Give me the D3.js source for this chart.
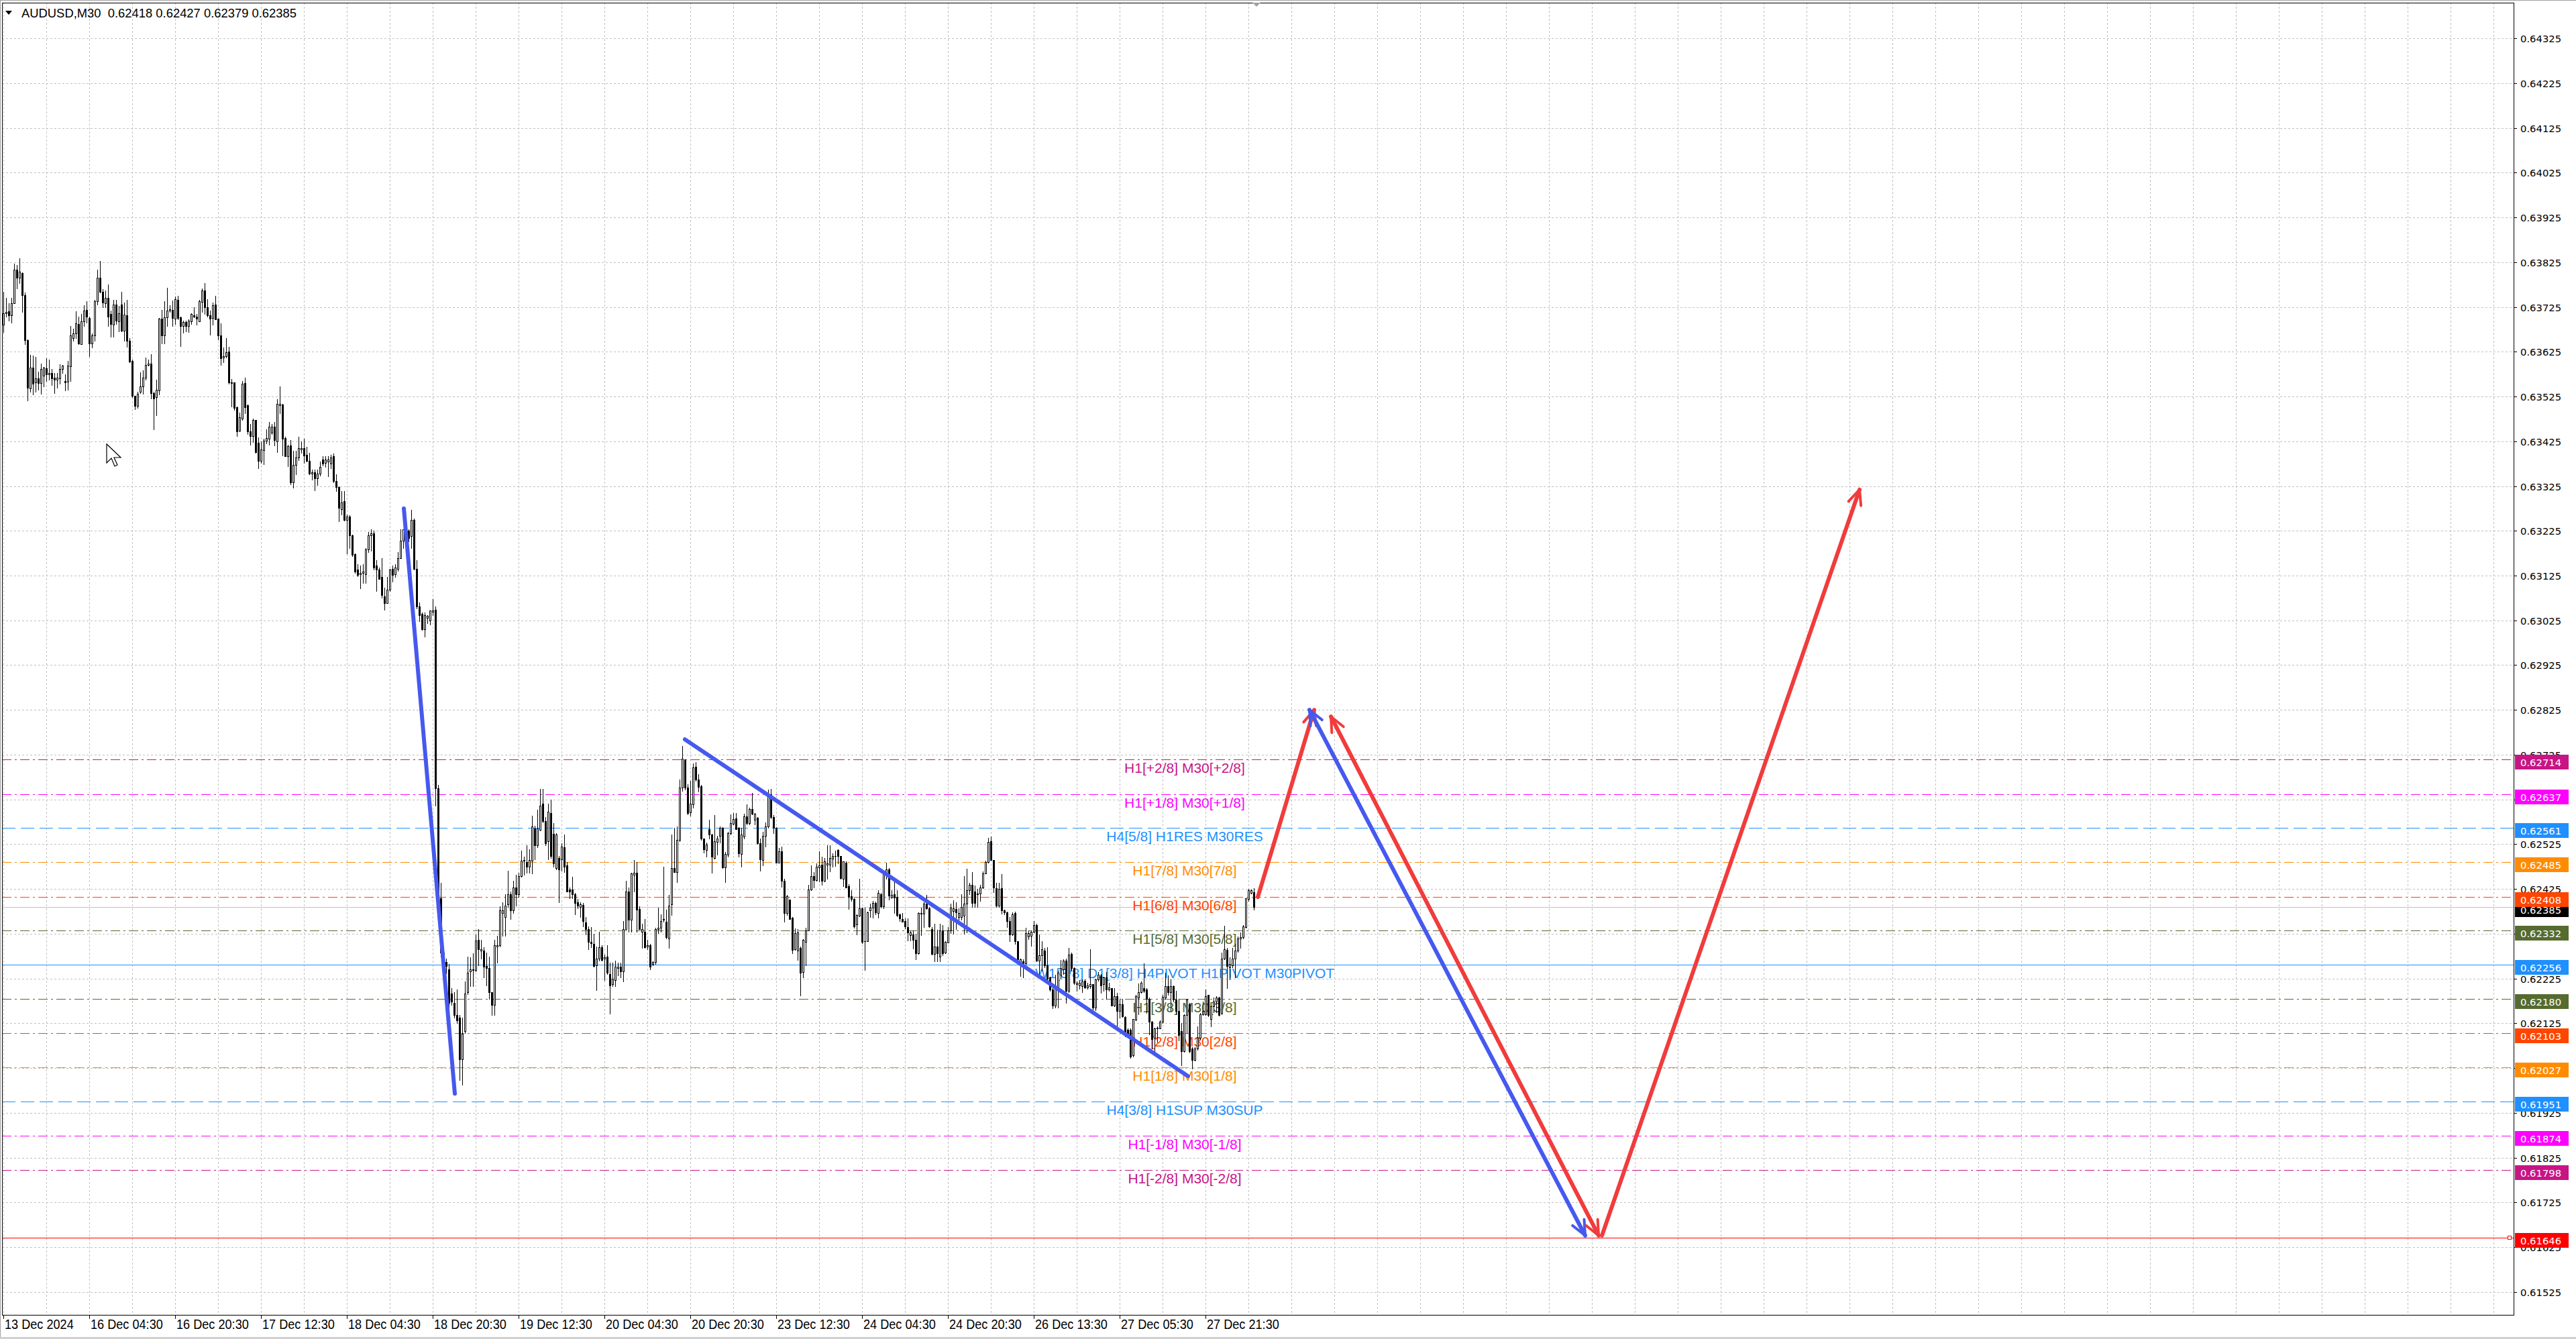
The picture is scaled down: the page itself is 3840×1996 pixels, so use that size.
<!DOCTYPE html>
<html><head><meta charset="utf-8">
<script src="https://cdn.jsdelivr.net/npm/d3@7"></script>
<style>html,body{margin:0;padding:0;background:#fff;overflow:hidden}svg{display:block}</style>
</head><body><svg id="c" width="3840" height="1996"></svg>
<script>
// ---------- DATA (prices x 100000) ----------
const open = [63685,63711,63716,63706,63733,63809,63791,63801,63752,63651,
63543,63590,63556,63565,63555,63572,63588,63574,63577,63567,
63562,63565,63586,63559,63558,63592,63655,63666,63687,63642,
63693,63718,63701,63644,63661,63738,63790,63759,63733,63745,
63709,63685,63731,63693,63731,63672,63706,63649,63604,63526,
63504,63535,63548,63567,63595,63599,63533,63523,63539,63699,
63662,63702,63717,63719,63699,63741,63702,63682,63692,63682,
63693,63707,63703,63693,63736,63762,63724,63706,63701,63731,
63699,63662,63612,63615,63626,63557,63556,63501,63448,63476,
63555,63505,63447,63437,63473,63421,63381,63405,63426,63431,
63444,63457,63425,63505,63507,63432,63391,63416,63333,63372,
63388,63407,63409,63394,63381,63352,63355,63342,63352,63384,
63377,63380,63375,63392,63337,63323,63274,63291,63250,63257,
63215,63173,63138,63128,63131,63128,63183,63215,63220,63147,
63138,63122,63079,63063,63094,63140,63128,63140,63164,63203,
63228,63225,63213,63250,63140,63056,63040,63005,63031,63025,
63044,63049,62650,62405,62283,62262,62246,62192,62171,62143,
62138,62044,62107,62194,62241,62244,62244,62311,62288,62288,
62253,62248,62194,62166,62297,62300,62372,62363,62391,62413,
62377,62429,62414,62454,62488,62485,62475,62488,62560,62522,
62557,62616,62576,62532,62594,62548,62471,62494,62491,62518,
62478,62424,62424,62414,62396,62385,62390,62351,62335,62307,
62302,62255,62269,62295,62269,62274,62235,62213,62222,62248,
62251,62241,62335,62419,62356,62457,62461,62381,62330,62330,
62297,62300,62258,62262,62336,62338,62357,62352,62314,62391,
62471,62463,62534,62652,62714,62651,62596,62614,62698,62669,
62655,62537,62512,62559,62547,62494,62530,62544,62561,62473,
62501,62549,62571,62582,62561,62503,62542,62587,62572,62604,
62579,62584,62527,62490,62544,62564,62637,62586,62561,62484,
62509,62443,62372,62401,62361,62291,62288,62294,62239,62307,
62333,62424,62454,62444,62473,62479,62443,62479,62479,62493,
62498,62512,62498,62448,62483,62432,62409,62403,62346,62366,
62382,62308,62309,62378,62384,62394,62372,62414,62386,62456,
62468,62408,62413,62407,62368,62358,62354,62340,62322,62323,
62312,62282,62370,62370,62392,62382,62336,62280,62296,62274,
62333,62283,62306,62333,62376,62381,62362,62362,62365,62393,
62422,62434,62420,62413,62415,62429,62460,62485,62532,62490,
62427,62388,62427,62377,62373,62353,62323,62372,62308,62258,
62263,62259,62319,62320,62329,62344,62265,62277,62287,62254,
62228,62200,62165,62203,62233,62245,62265,62198,62280,62248,
62213,62210,62208,62220,62205,62208,62213,62160,62223,62232,
62212,62228,62200,62203,62165,62185,62153,62167,62139,62110,
62110,62053,62133,62183,62194,62203,62200,62180,62128,62093,
62113,62114,62129,62183,62208,62195,62208,62178,62153,62108,
62063,62143,62168,62068,62043,62069,62093,62145,62145,62188,
62134,62163,62173,62183,62148,62270,62289,62250,62255,62269,
62287,62314,62317,62340,62403,62417,62418];
const high = [63759,63745,63733,63746,63821,63818,63834,63803,63757,63653,
63618,63617,63613,63580,63599,63591,63610,63607,63586,63578,
63578,63597,63596,63575,63604,63682,63677,63715,63703,63709,
63729,63738,63703,63666,63741,63808,63827,63765,63762,63775,
63717,63741,63741,63727,63759,63735,63741,63655,63607,63527,
63535,63579,63583,63612,63607,63620,63535,63562,63701,63719,
63738,63768,63729,63740,63749,63750,63703,63694,63695,63698,
63711,63725,63709,63741,63767,63778,63743,63717,63735,63750,
63699,63688,63634,63655,63636,63564,63556,63503,63489,63559,
63567,63507,63463,63476,63473,63433,63425,63430,63452,63468,
63463,63468,63519,63547,63508,63435,63417,63428,63404,63404,
63435,63424,63430,63412,63399,63361,63361,63361,63380,63392,
63392,63392,63395,63398,63351,63325,63314,63314,63262,63260,
63216,63175,63150,63147,63150,63187,63222,63229,63225,63159,
63143,63164,63098,63122,63140,63147,63150,63178,63229,63229,
63234,63228,63272,63253,63159,63065,63042,63042,63037,63047,
63072,63056,62658,62438,62290,62270,62257,62204,62194,62201,
62143,62138,62218,62274,62272,62281,62323,62335,62311,62295,
62283,62274,62194,62311,62321,62386,62396,62414,62466,62419,
62443,62457,62461,62510,62497,62522,62513,62588,62566,62602,
62649,62649,62585,62616,62625,62572,62550,62499,62527,62546,
62485,62429,62452,62416,62403,62396,62394,62363,62341,62340,
62325,62297,62330,62300,62279,62300,62260,62260,62265,62260,
62260,62353,62443,62429,62461,62489,62485,62386,62347,62358,
62311,62302,62264,62339,62384,62368,62474,62379,62412,62547,
62562,62564,62669,62744,62714,62659,62667,62706,62708,62682,
62657,62537,62528,62579,62548,62590,62544,62564,62563,62507,
62553,62591,62594,62594,62563,62561,62593,62614,62606,62639,
62594,62586,62537,62553,62574,62647,62648,62590,62563,62517,
62519,62447,62412,62402,62362,62337,62336,62297,62313,62339,
62434,62477,62462,62482,62509,62497,62494,62523,62522,62504,
62511,62514,62499,62487,62486,62436,62422,62404,62369,62447,
62384,62384,62374,62392,62399,62397,62423,62416,62462,62483,
62472,62422,62442,62423,62370,62372,62360,62360,62331,62332,
62325,62373,62383,62395,62412,62385,62340,62347,62334,62347,
62345,62308,62340,62392,62400,62395,62382,62414,62454,62470,
62438,62463,62433,62425,62435,62464,62488,62539,62542,62490,
62438,62438,62458,62379,62375,62363,62373,62374,62309,62270,
62268,62338,62332,62333,62354,62348,62324,62309,62293,62295,
62229,62204,62233,62243,62267,62268,62270,62294,62283,62250,
62219,62222,62223,62223,62215,62290,62213,62224,62240,62235,
62229,62240,62215,62204,62203,62193,62178,62180,62140,62113,
62113,62135,62188,62214,62218,62259,62203,62183,62130,62115,
62118,62132,62188,62238,62232,62223,62210,62198,62180,62126,
62145,62180,62170,62071,62071,62118,62148,62173,62200,62189,
62165,62183,62185,62184,62283,62343,62293,62273,62293,62303,
62319,62328,62344,62405,62425,62424,62427];
const low = [63669,63703,63695,63690,63733,63767,63778,63714,63642,63516,
63535,63530,63536,63540,63531,63548,63559,63562,63550,63533,
63545,63553,63578,63538,63540,63559,63650,63655,63642,63642,
63682,63690,63615,63634,63650,63730,63757,63725,63725,63682,
63658,63658,63687,63671,63671,63650,63636,63602,63524,63497,
63500,63532,63531,63562,63594,63521,63451,63483,63530,63644,
63644,63682,63714,63683,63687,63698,63638,63667,63671,63669,
63687,63702,63685,63693,63714,63709,63703,63663,63685,63698,
63653,63596,63602,63612,63554,63503,63495,63436,63447,63473,
63487,63441,63417,63423,63399,63364,63377,63373,63420,63417,
63441,63415,63400,63487,63393,63391,63369,63329,63321,63351,
63383,63399,63377,63380,63351,63340,63316,63327,63348,63370,
63368,63347,63365,63334,63314,63246,63262,63248,63175,63187,
63169,63131,63124,63096,63109,63109,63178,63181,63138,63091,
63117,63075,63049,63063,63091,63112,63122,63136,63164,63187,
63206,63201,63187,63138,63051,63023,63003,62988,63019,63016,
63037,62611,62396,62274,62241,62236,62162,62166,62138,62126,
61998,61988,62103,62190,62208,62208,62241,62255,62269,62227,
62210,62180,62143,62143,62260,62297,62321,62321,62385,62358,
62372,62388,62407,62452,62457,62461,62461,62459,62491,62518,
62555,62574,62522,62491,62494,62475,62469,62396,62466,62463,
62419,62405,62405,62368,62382,62363,62341,62323,62291,62295,
62251,62199,62265,62265,62222,62235,62147,62208,62208,62232,
62227,62218,62335,62330,62330,62419,62330,62335,62293,62293,
62291,62246,62254,62258,62327,62329,62352,62314,62294,62367,
62462,62440,62532,62644,62647,62592,62589,62607,62667,62642,
62534,62506,62497,62537,62461,62492,62502,62529,62472,62440,
62497,62547,62569,62558,62497,62474,62538,62569,62569,62592,
62569,62526,62466,62477,62519,62562,62583,62550,62483,62483,
62430,62352,62367,62358,62282,62289,62266,62187,62227,62254,
62332,62423,62429,62443,62442,62434,62442,62447,62464,62474,
62476,62482,62447,62432,62428,62381,62399,62339,62324,62364,
62304,62244,62308,62363,62361,62369,62361,62384,62382,62447,
62402,62404,62372,62364,62354,62352,62337,62310,62310,62292,
62268,62280,62322,62340,62380,62340,62278,62263,62264,62264,
62277,62282,62305,62327,62325,62335,62357,62357,62325,62328,
62413,62385,62385,62385,62399,62427,62459,62484,62489,62418,
62385,62385,62370,62368,62340,62308,62322,62303,62263,62230,
62228,62258,62313,62298,62328,62263,62233,62243,62250,62223,
62198,62159,62160,62160,62225,62235,62170,62195,62243,62213,
62198,62202,62194,62203,62202,62203,62155,62154,62220,62193,
62198,62180,62198,62164,62163,62120,62138,62139,62096,62093,
62048,62051,62131,62145,62193,62195,62148,62100,62068,62063,
62083,62113,62126,62180,62188,62153,62173,62145,62086,62031,
62061,62103,62060,62023,62041,62065,62090,62143,62143,62140,
62118,62150,62150,62142,62145,62268,62203,62223,62250,62228,
62285,62293,62315,62339,62399,62415,62379];
const close = [63711,63714,63706,63733,63808,63791,63804,63752,63651,63544,
63590,63553,63565,63555,63586,63590,63575,63577,63565,63562,
63567,63586,63594,63556,63594,63661,63666,63688,63643,63693,
63717,63703,63644,63661,63738,63791,63759,63735,63746,63704,
63687,63730,63695,63711,63672,63708,63649,63603,63526,63504,
63531,63548,63567,63595,63599,63533,63520,63540,63699,63661,
63702,63717,63720,63701,63743,63701,63682,63692,63682,63695,
63709,63703,63699,63738,63762,63724,63707,63699,63729,63698,
63661,63611,63615,63624,63556,63555,63500,63447,63478,63553,
63501,63447,63436,63473,63400,63381,63407,63426,63432,63457,
63457,63428,63508,63508,63430,63391,63414,63334,63372,63388,
63409,63409,63393,63381,63352,63355,63342,63352,63368,63375,
63384,63384,63389,63337,63323,63276,63288,63250,63257,63215,
63171,63134,63126,63131,63134,63184,63215,63220,63143,63138,
63117,63081,63063,63094,63138,63126,63143,63164,63203,63228,
63211,63209,63250,63140,63056,63037,63005,63037,63035,63047,
63047,62650,62405,62283,62255,62253,62171,62173,62143,62132,
62044,62101,62192,62238,62246,62246,62310,62291,62291,62251,
62248,62194,62166,62300,62300,62377,62377,62388,62414,62377,
62429,62414,62454,62488,62489,62475,62489,62564,62522,62560,
62611,62576,62527,62597,62499,62482,62546,62469,62519,62475,
62419,62419,62414,62394,62388,62391,62353,62335,62307,62304,
62253,62269,62295,62266,62272,62238,62210,62225,62251,62251,
62241,62335,62419,62356,62459,62461,62379,62335,62335,62295,
62300,62251,62262,62336,62339,62354,62358,62317,62388,62472,
62463,62534,62652,62716,62652,62594,62616,62697,62669,62653,
62537,62513,62524,62546,62497,62531,62538,62561,62473,62503,
62549,62572,62581,62559,62504,62547,62587,62572,62604,62593,
62593,62527,62491,62544,62564,62638,62586,62561,62484,62509,
62443,62372,62409,62358,62289,62326,62328,62238,62311,62333,
62424,62454,62444,62474,62478,62443,62486,62482,62494,62499,
62499,62498,62449,62486,62429,62408,62403,62342,62367,62382,
62307,62309,62373,62384,62394,62373,62416,62386,62458,62468,
62410,62412,62406,62367,62360,62352,62342,62328,62328,62312,
62282,62371,62372,62392,62382,62342,62280,62296,62281,62333,
62281,62307,62333,62383,62382,62373,62372,62385,62393,62423,
62434,62394,62394,62415,62429,62460,62485,62530,62490,62429,
62388,62425,62377,62373,62353,62323,62368,62308,62268,62268,
62259,62327,62327,62329,62345,62265,62277,62290,62254,62224,
62200,62165,62203,62238,62248,62265,62198,62279,62248,62215,
62215,62215,62218,62205,62209,62213,62160,62223,62233,62209,
62228,62200,62205,62165,62185,62153,62168,62140,62099,62096,
62051,62134,62185,62195,62215,62198,62180,62128,62089,62113,
62115,62129,62184,62208,62195,62208,62178,62153,62098,62063,
62143,62178,62063,62043,62068,62093,62145,62153,62185,62143,
62163,62173,62183,62143,62270,62290,62253,62257,62270,62288,
62315,62318,62342,62404,62423,62422,62385];

const timeLabels = ["13 Dec 2024","16 Dec 04:30","16 Dec 20:30","17 Dec 12:30","18 Dec 04:30","18 Dec 20:30","19 Dec 12:30","20 Dec 04:30","20 Dec 20:30","23 Dec 12:30","24 Dec 04:30","24 Dec 20:30","26 Dec 13:30","27 Dec 05:30","27 Dec 21:30"];
const timeLabelBars = [0,32,64,96,128,160,192,224,256,288,320,352,384,416,448];
const priceTickLabels = ["0.61525","0.61625","0.61725","0.61825","0.61925","0.62025","0.62125","0.62225","0.62325","0.62425","0.62525","0.62625","0.62725","0.62825","0.62925","0.63025","0.63125","0.63225","0.63325","0.63425","0.63525","0.63625","0.63725","0.63825","0.63925","0.64025","0.64125","0.64225","0.64325"];

const levelPrices = [0.62714,0.62637,0.62561,0.62485,0.62408,0.62332,0.62256,0.62180,0.62103,0.62027,0.61951,0.61874,0.61798,0.61646];
const levelLabels = ["H1[+2/8] M30[+2/8]","H1[+1/8] M30[+1/8]","H4[5/8] H1RES M30RES","H1[7/8] M30[7/8]","H1[6/8] M30[6/8]","H1[5/8] M30[5/8]","W1[3/8] D1[3/8] H4PIVOT H1PIVOT M30PIVOT","H1[3/8] M30[3/8]","H1[2/8] M30[2/8]","H1[1/8] M30[1/8]","H4[3/8] H1SUP M30SUP","H1[-1/8] M30[-1/8]","H1[-2/8] M30[-2/8]",""];
const bidPrice = 0.62385;
const header = {symbol:"AUDUSD,M30", o:"0.62418", h:"0.62427", l:"0.62379", c:"0.62385"};

// drawn lines: [bar index, price]
const trendA = [[149.25,0.63275],[168.25,0.61968]];
const trendB = [[254,0.62759],[441.5,0.62007]];
const projRed1 = [[467.5,0.62407],[488.5,0.62825]];
const projBlue = [[486.75,0.62825],[589.5,0.61651]];
const projRed2 = [[494.75,0.62810],[594.5,0.61651]];
const projRed3 = [[595.75,0.61651],[691.75,0.63317]];

// ---------- STYLES ----------
const levelColor = ["#C71585","#FF00FF","#1E90FF","#FF8C00","#FF4500","#556B2F","#1E90FF","#556B2F","#FF4500","#FF8C00","#1E90FF","#FF00FF","#C71585","#FF0000"];
const DD = "14,5,3,5", DASH = "20,8";
const levelDash = [DD,DD,DASH,DD,DD,DD,null,DD,DD,DD,DASH,DD,DD,null];

// ---------- LAYOUT ----------
const W=3840,H=1996, L=3, T=4, R=3747, B=1960;
const labelX = 1766, boxShift = 4;
const svg = d3.select('#c');
const x = d3.scaleLinear().domain([0,935.5]).range([5,3747]);
const y = d3.scaleLinear().domain([0.614738,0.644046]).range([B,T]);
const P = v => v/100000;
const sans = "'Liberation Sans', Arial, sans-serif";
const verd = "'DejaVu Sans', Verdana, sans-serif";

svg.append('rect').attr('width',W).attr('height',H).attr('fill','#fff');

// grid
const grid = svg.append('g').attr('stroke','#C0C0C0').attr('stroke-width',1).attr('stroke-dasharray','3,3');
d3.range(0,936,16).forEach(b=>{
  const gx = Math.round(x(b))+0.5;
  if (gx < R) grid.append('line').attr('x1',gx).attr('x2',gx).attr('y1',T).attr('y2',B);
});
priceTickLabels.forEach(s=>{
  const gy = Math.round(y(+s))+0.5;
  grid.append('line').attr('x1',L).attr('x2',R).attr('y1',gy).attr('y2',gy);
});

// level lines
const lv = svg.append('g');
levelPrices.forEach((p,i)=>{
  const ly = Math.round(y(p))+0.5;
  const ln = lv.append('line').attr('x1',L).attr('x2',R).attr('y1',ly).attr('y2',ly)
    .attr('stroke',levelColor[i]).attr('stroke-width',1);
  if (levelDash[i]) ln.attr('stroke-dasharray',levelDash[i]);
});
{ const by = Math.round(y(bidPrice))+0.5;
  lv.append('line').attr('x1',L).attr('x2',R).attr('y1',by).attr('y2',by).attr('stroke','#C0C0C0').attr('stroke-width',1); }

levelPrices.forEach((p,i)=>{
  if(!levelLabels[i]) return;
  lv.append('text').attr('x',labelX).attr('y',Math.round(y(p))+20)
    .attr('text-anchor','middle').attr('font-family',sans).attr('font-size',21)
    .attr('fill',levelColor[i]).text(levelLabels[i]);
});

// candles
const cg = svg.append('g');
open.forEach((o,i)=>{
  const h=high[i], l=low[i], c=close[i];
  const cx = Math.round(x(i));
  const hi = Math.max(h,o,c), lo = Math.min(l,o,c);
  const yh = Math.round(y(P(hi))), yl = Math.round(y(P(lo)));
  cg.append('rect').attr('x',cx).attr('y',yh).attr('width',1).attr('height',Math.max(1,yl-yh+1)).attr('fill','#000');
  const yt = Math.round(y(P(Math.max(o,c)))), yb = Math.round(y(P(Math.min(o,c))));
  if (yb-yt < 2) {
    cg.append('rect').attr('x',cx-1).attr('y',yt).attr('width',3).attr('height',Math.max(1,yb-yt+1)).attr('fill','#000');
  } else if (c >= o) {
    cg.append('rect').attr('x',cx-0.5).attr('y',yt+0.5).attr('width',2).attr('height',yb-yt)
      .attr('fill','#fff').attr('stroke','#000').attr('stroke-width',1);
  } else {
    cg.append('rect').attr('x',cx-1).attr('y',yt).attr('width',3).attr('height',yb-yt+1).attr('fill','#000');
  }
});

// trend lines & projections
const tl = svg.append('g').attr('fill','none').attr('stroke-linecap','round');
const pt = d => [x(d[0]), y(d[1])];
function seg(d,color,w){ tl.append('path').attr('d',d3.line()(d.map(pt))).attr('stroke',color).attr('stroke-width',w); }
function head(d,color,w,atStart){
  const a = atStart? pt(d[1]):pt(d[0]), b = atStart? pt(d[0]):pt(d[1]);
  const ang = Math.atan2(b[1]-a[1], b[0]-a[0]), Lh=24, s=0.42;
  const p1=[b[0]-Lh*Math.cos(ang-s), b[1]-Lh*Math.sin(ang-s)];
  const p2=[b[0]-Lh*Math.cos(ang+s), b[1]-Lh*Math.sin(ang+s)];
  tl.append('path').attr('d',d3.line()([p1,b,p2])).attr('stroke',color).attr('stroke-width',w).attr('stroke-linejoin','round');
}
const BLUE="#4659EE", RED="#F03C3C";
seg(trendA,BLUE,6); seg(trendB,BLUE,6);
seg(projRed1,RED,6); head(projRed1,RED,4,false);
seg(projBlue,BLUE,6); head(projBlue,BLUE,4,false); head(projBlue,BLUE,4,true);
seg(projRed2,RED,6); head(projRed2,RED,4,false); head(projRed2,RED,4,true);
seg(projRed3,RED,6); head(projRed3,RED,4,false);

// frame
svg.append('rect').attr('x',L+0.5).attr('y',T+0.5).attr('width',R-L).attr('height',B-T)
  .attr('fill','none').attr('stroke','#000').attr('stroke-width',1);
svg.append('line').attr('x1',0).attr('x2',W).attr('y1',0.5).attr('y2',0.5).attr('stroke','#A0A0A0');
svg.append('line').attr('x1',0.5).attr('x2',0.5).attr('y1',0).attr('y2',H).attr('stroke','#A0A0A0');
svg.append('line').attr('x1',0).attr('x2',W).attr('y1',H-1.5).attr('y2',H-1.5).attr('stroke','#D0D0D0').attr('stroke-width',3);

{ const my = Math.round(y(levelPrices[13]));
  svg.append('rect').attr('x',R-8.5).attr('y',my-2.5).attr('width',5).attr('height',5).attr('fill','#fff').attr('stroke','#FF0000'); }

// price axis
const ax = svg.append('g');
const boxes = [{p:bidPrice,col:'#000000'}].concat(levelPrices.map((p,i)=>({p,col:levelColor[i]})));
const boxCenters = boxes.map(b=>Math.round(y(b.p))+boxShift);
priceTickLabels.forEach(s=>{
  const py = Math.round(y(+s));
  ax.append('line').attr('x1',R).attr('x2',R+5).attr('y1',py+0.5).attr('y2',py+0.5).attr('stroke','#000');
  // a label that sits entirely under a price box is not visible in the reference
  const covered = boxCenters.some(bc=>Math.abs(bc-py)<=5);
  if (!covered)
    ax.append('text').attr('x',R+10).attr('y',py+5.5).attr('font-family',verd).attr('font-size',14.8).attr('fill','#000').text(s);
});
boxes.forEach((b,i)=>{
  const py = boxCenters[i];
  ax.append('rect').attr('x',R+2).attr('y',py-11).attr('width',80).attr('height',22).attr('fill',b.col);
  ax.append('text').attr('x',R+10).attr('y',py+5.5).attr('font-family',verd).attr('font-size',14.8).attr('fill','#fff').text(d3.format('.5f')(b.p));
});

// time axis
timeLabelBars.forEach((b,i)=>{
  const tx = Math.round(x(b));
  ax.append('line').attr('x1',tx+0.5).attr('x2',tx+0.5).attr('y1',B).attr('y2',B+6).attr('stroke','#000');
  ax.append('text').attr('transform',`translate(${tx+2},${B+21}) scale(0.93,1)`)
    .attr('font-family',sans).attr('font-size',19.5).attr('fill','#000').text(timeLabels[i]);
});

// header
svg.append('path').attr('d','M8,16 L18,16 L13,22 Z').attr('fill','#000');
svg.append('text').attr('x',32).attr('y',26).attr('font-family',sans).attr('font-size',18.4).attr('fill','#000')
  .attr('xml:space','preserve').style('white-space','pre')
  .text(`${header.symbol}  ${header.o} ${header.h} ${header.l} ${header.c}`);

svg.append('path').attr('d','M1867,4 L1879,4 L1873,10 Z').attr('fill','#A0A0A0');

svg.append('path').attr('transform','translate(159,662)')
  .attr('d','M0,0 L0,28 L7,21 L12,33 L16,31 L11,20 L21,20 Z')
  .attr('fill','#fff').attr('stroke','#000').attr('stroke-width',1.2);
</script></body></html>
